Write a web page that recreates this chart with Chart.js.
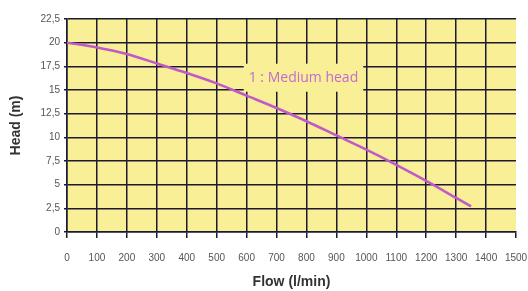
<!DOCTYPE html>
<html>
<head>
<meta charset="utf-8">
<script src="https://cdn.jsdelivr.net/npm/chart.js@4/dist/chart.umd.min.js"></script>
<style>
  html, body { margin: 0; padding: 0; background: #fff; }
  #chart { display: block; }
</style>
</head>
<body>
<canvas id="chart" width="528" height="291"></canvas>
<script>
// pump curve
const flows = [0, 100, 200, 300, 400, 500, 600, 700, 800, 900, 1000, 1100, 1200, 1300, 1350];
const heads = [20, 19.5, 18.8, 17.8, 16.8, 15.7, 14.4, 13.1, 11.7, 10.2, 8.7, 7.1, 5.4, 3.6, 2.7];
const seriesLabel = '1 : Medium head';
const xTitle = 'Flow (l/min)';
const yTitle = 'Head (m)';

const gridColor = '#1c1a33';
const curveColor = '#c05ac8';
const tickFont = { family: "'Liberation Sans Narrow', 'Liberation Sans', Arial, sans-serif", size: 10 };
const titleFont = { family: "'Liberation Sans', Arial, sans-serif", size: 14, weight: 'bold' };

const plotBackground = {
    id: 'plotBackground',
    beforeDraw(chart) {
        const { ctx, chartArea: a } = chart;
        ctx.save();
        ctx.fillStyle = '#f8ef96';
        ctx.fillRect(a.left, a.top, a.right - a.left, a.bottom - a.top);
        ctx.restore();
    }
};

// the "1 : Medium head" tag sits on a yellow patch that hides the grid
const curveTag = {
    id: 'curveTag',
    afterDatasetsDraw(chart) {
        const { ctx, scales } = chart;
        const cx = scales.x.getPixelForValue(790);
        const cy = scales.y.getPixelForValue(16.3);
        ctx.save();
        ctx.font = "14px 'Open Sans', sans-serif";
        const w = ctx.measureText(seriesLabel).width;
        ctx.fillStyle = '#f8ef96';
        ctx.fillRect(cx - w / 2 - 5, cy - 14, w + 10, 28);
        ctx.fillStyle = '#c46ad0';
        ctx.textAlign = 'center';
        ctx.textBaseline = 'middle';
        ctx.fillText(seriesLabel, cx, cy);
        ctx.restore();
    }
};

new Chart(document.getElementById('chart'), {
    type: 'line',
    data: {
        datasets: [{
            label: seriesLabel,
            data: flows.map((f, i) => ({ x: f, y: heads[i] })),
            borderColor: curveColor,
            borderWidth: 2.5,
            pointRadius: 0,
            tension: 0.3,
            fill: false
        }]
    },
    options: {
        responsive: false,
        animation: false,
        layout: { padding: { top: 19, right: 12, left: 0, bottom: 0 } },
        plugins: {
            legend: { display: false },
            tooltip: { enabled: false }
        },
        scales: {
            x: {
                type: 'linear',
                min: 0,
                max: 1500,
                afterFit: s => {
                    s.height = 59;
                    s.paddingLeft = 0;
                    s.paddingRight = 0;
                },
                ticks: {
                    stepSize: 100,
                    autoSkip: false,
                    color: '#555',
                    font: tickFont,
                    padding: 14,
                    maxRotation: 0,
                    callback: v => String(v)
                },
                grid: {
                    color: c => c.index === 15 ? 'rgba(0,0,0,0)' : gridColor,
                    tickColor: gridColor,
                    lineWidth: 1.5,
                    tickLength: 6
                },
                border: { color: gridColor, width: 1.5 },
                title: { display: true, text: xTitle, color: '#333', font: titleFont, padding: { top: -1, bottom: 0 } }
            },
            y: {
                min: 0,
                max: 22.5,
                afterFit: s => { s.width = 67; },
                ticks: {
                    stepSize: 2.5,
                    color: '#555',
                    font: tickFont,
                    padding: 4,
                    callback: v => String(v).replace('.', ',')
                },
                grid: { color: gridColor, lineWidth: 1.5, tickLength: 3 },
                border: { color: gridColor, width: 1.5 },
                title: { display: true, text: yTitle, color: '#333', font: titleFont, padding: { top: 8, bottom: 0 } }
            }
        }
    },
    plugins: [plotBackground, curveTag]
});
</script>
</body>
</html>
